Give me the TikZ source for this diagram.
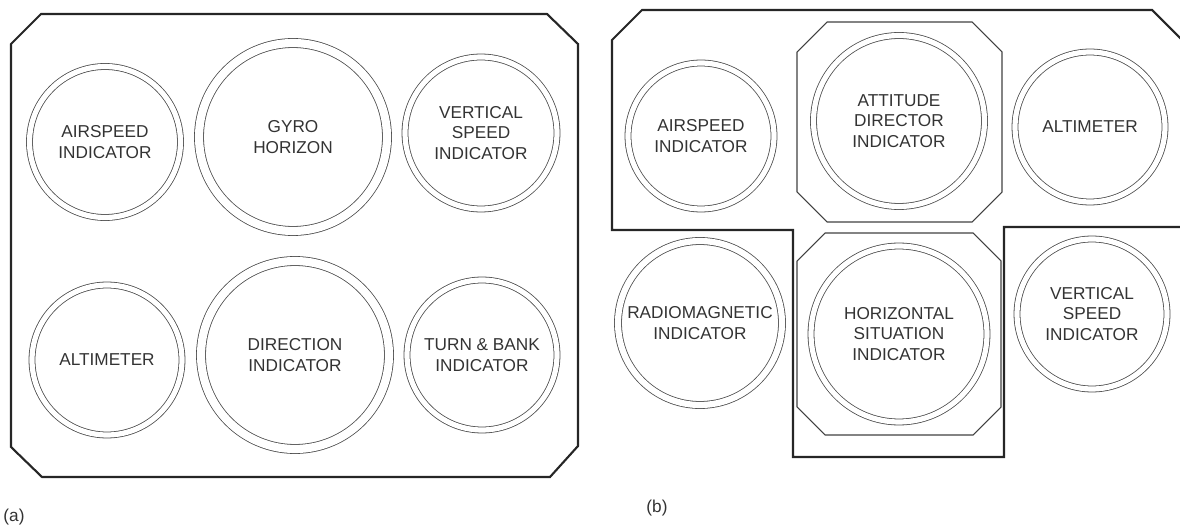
\documentclass[tikz,border=0pt]{standalone}
\usepackage{fontspec}
\setmainfont{Liberation Sans}
\usetikzlibrary{positioning}

\begin{document}
\begin{tikzpicture}[
  x=0.02cm, y=-0.02cm,
  every node/.style={font=\fontsize{9.8}{11.6}\selectfont, text=black!80},
  frame/.style={draw=black!85, line width=1.2pt, line join=miter},
  bezel/.style={draw=black!75, line width=0.6pt},
  gauge/.style={circle, draw=black!70, line width=0.45pt, double, double distance=0.104cm,
                inner sep=0pt, align=center, minimum size=#1},
  midrim/.style={double distance=0.124cm},
  bigrim/.style={double distance=0.164cm}
]
  \useasboundingbox (0,0) rectangle (1180,530);

  % (a) conventional panel
  \draw[frame] (41,14) -- (547,14) -- (578,44) -- (578,446) -- (550,477)
    -- (42,477) -- (11,447) -- (11,44) -- cycle;
  \node[gauge=3.02cm] (asia) at (105,142) {AIRSPEED\\INDICATOR};
  \node[gauge=3.76cm, bigrim] (gyro) at (293,137) {GYRO\\HORIZON};
  \node[gauge=3.04cm] (vsia) at (481,133) {VERTICAL\\SPEED\\INDICATOR};
  \node[gauge=3cm] (alta) at (107,360) {ALTIMETER};
  \node[gauge=3.76cm, bigrim] (dir) at (295,355) {DIRECTION\\INDICATOR};
  \node[gauge=3cm] (turn) at (482,355) {TURN \& BANK\\INDICATOR};
  \node (laba) at (14,517) {(a)};

  % (b) T arrangement
  \draw[frame] (612,40) -- (642,10) -- (1152,10) -- (1186,44) -- (1186,227)
    -- (1004,227) -- (1004,457) -- (793,457) -- (793,230) -- (612,230) -- cycle;
  \draw[bezel] (827,22) -- (972,22) -- (1002,52) -- (1002,192) -- (972,222)
    -- (827,222) -- (797,192) -- (797,52) -- cycle;
  \draw[bezel] (825,233) -- (973,233) -- (1001,261) -- (1001,407) -- (973,435)
    -- (825,435) -- (797,407) -- (797,261) -- cycle;
  \node[gauge=2.92cm] (asib) at (701,136) {AIRSPEED\\INDICATOR};
  \node[gauge=3.42cm] (adi) at (899,121) {ATTITUDE\\DIRECTOR\\INDICATOR};
  \node[gauge=3cm] (altb) at (1090,127) {ALTIMETER};
  \node[gauge=3.28cm, midrim] (rmi) at (700,323) {RADIOMAGNETIC\\INDICATOR};
  \node[gauge=3.52cm] (hsi) at (899,334) {HORIZONTAL\\SITUATION\\INDICATOR};
  \node[gauge=3cm] (vsib) at (1092,314) {VERTICAL\\SPEED\\INDICATOR};
  \node (labb) at (657,508) {(b)};
\end{tikzpicture}
\end{document}
